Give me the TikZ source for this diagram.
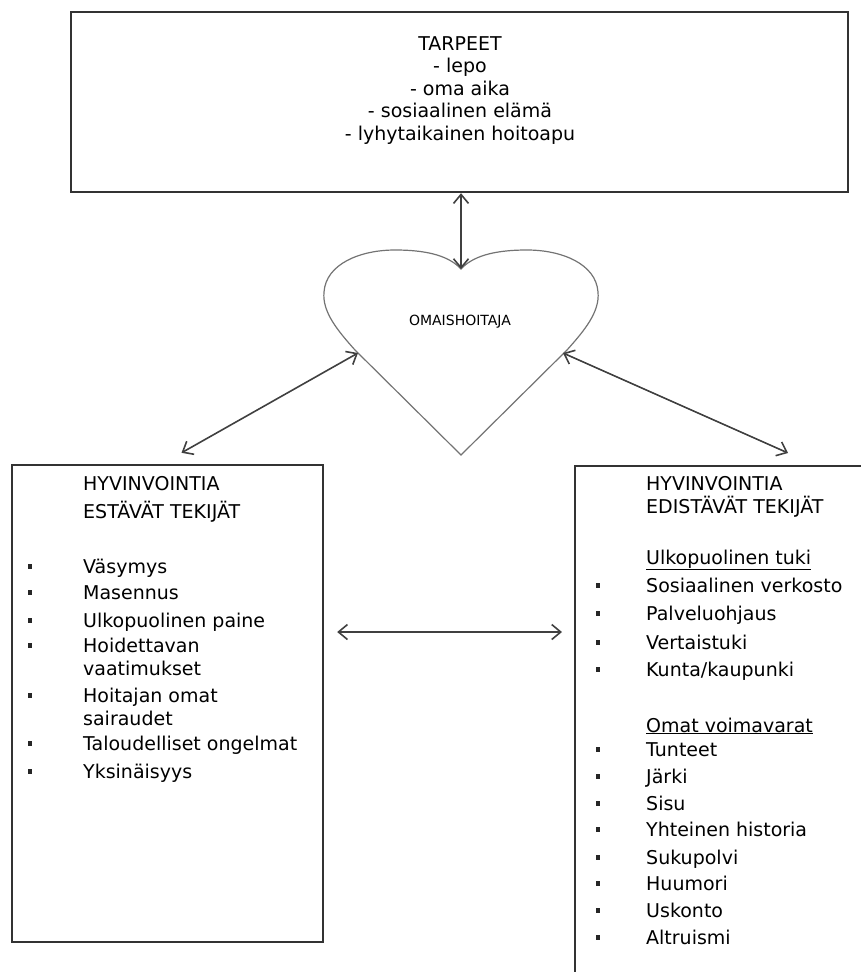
\documentclass[tikz,border=0pt]{standalone}
\usepackage{fontspec}
\setmainfont{DejaVu Sans}
\usetikzlibrary{arrows.meta,calc,positioning}

\begin{document}
\begin{tikzpicture}[
  x=1pt, y=-1pt,
  box/.style={rectangle, draw=black!80, line width=2.4pt, inner sep=0pt},
  txt/.style={font=\fontsize{19}{23}\selectfont, inner sep=0pt, anchor=base west, align=left},
  arrow/.style={{Straight Barb[length=9pt,width=15pt]}-{Straight Barb[length=9pt,width=15pt]}, black!75, line width=1.6pt},
  dot/.style={fill=black!85}
]
\useasboundingbox (0,0) rectangle (861,972);
\clip (0,0) rectangle (861,972);

% Top: needs
\node[box, minimum width=777pt, minimum height=180pt] (topbox) at (459.5,102) {};
\node[font=\fontsize{19}{22.6}\selectfont, inner sep=0pt, align=center, anchor=north] (needs) at (460,36)
  {TARPEET\\- lepo\\- oma aika\\- sosiaalinen elämä\\- lyhytaikainen hoitoapu};

% Heart
\coordinate (cusp) at (461,269);
\coordinate (tip) at (461,455);
\draw[black!55, line width=1.2pt] (tip) -- (355,350)
  .. controls (338,331) and (322,312) .. (324,292)
  .. controls (326,264) and (360,250) .. (395,250)
  .. controls (430,250) and (450,257) .. (cusp)
  .. controls (472,257) and (492,250) .. (527,250)
  .. controls (562,250) and (596,264) .. (598,292)
  .. controls (600,312) and (584,331) .. (567,350)
  -- cycle;
\node[font=\fontsize{14}{16}\selectfont, inner sep=0pt] (carer) at (460,322) {OMAISHOITAJA};
\coordinate (hL) at (358,353);
\coordinate (hR) at (563,353);

% Left: hindering factors (base = last line)
\node[box, minimum width=311pt, minimum height=477pt] (leftbox) at (167.5,703.5) {};
\node[txt, font=\fontsize{19}{28.5}\selectfont] (lefthead) at (83,518.5) {HYVINVOINTIA\\ESTÄVÄT TEKIJÄT};
\foreach \y/\s/\t [count=\i] in {566/0/Väsymys, 592/0/Masennus, 620/0/Ulkopuolinen paine,
    645/23/{Hoidettavan\\vaatimukset}, 695/23/{Hoitajan omat\\sairaudet},
    743/0/Taloudelliset ongelmat, 771/0/Yksinäisyys} {
  \fill[dot] (28,\y-2.5) rectangle (32,\y+2.5);
  \node[txt] (li\i) at (83,\y+7+\s) {\t};
}

% Right: promoting factors
\node[box, draw=black!80, line width=2pt, minimum width=340pt, minimum height=560pt] (rightbox) at (745,746) {};
\node[txt] (righthead) at (646,513) {HYVINVOINTIA\\EDISTÄVÄT TEKIJÄT};
\node[txt] (rsub1) at (646,564) {\underline{Ulkopuolinen tuki}};
\node[txt] (rsub2) at (646,732) {\underline{Omat voimavarat}};
\foreach \y/\t [count=\i] in {585/Sosiaalinen verkosto, 613/Palveluohjaus, 642/Vertaistuki,
    669/{Kunta/kaupunki}, 749/Tunteet, 776/Järki, 803/Sisu, 829/Yhteinen historia,
    857/Sukupolvi, 883/Huumori, 910/Uskonto, 937/Altruismi} {
  \fill[dot] (596,\y-2.5) rectangle (600,\y+2.5);
  \node[txt] (ri\i) at (646,\y+7) {\t};
}

% Arrows
\coordinate (lEnd) at ($(leftbox.north)+(14,-11)$);
\coordinate (rEnd) at (788,453);
\coordinate (midrow) at (0,632);
\draw[arrow] (cusp |- topbox.south) -- (cusp);
\draw[arrow] (hL) -- (lEnd);
\draw[arrow] (hR) -- (rEnd);
\draw[arrow] ($(leftbox.east |- midrow)+(13,0)$) -- ($(rightbox.west |- midrow)+(-12,0)$);

\end{tikzpicture}
\end{document}
